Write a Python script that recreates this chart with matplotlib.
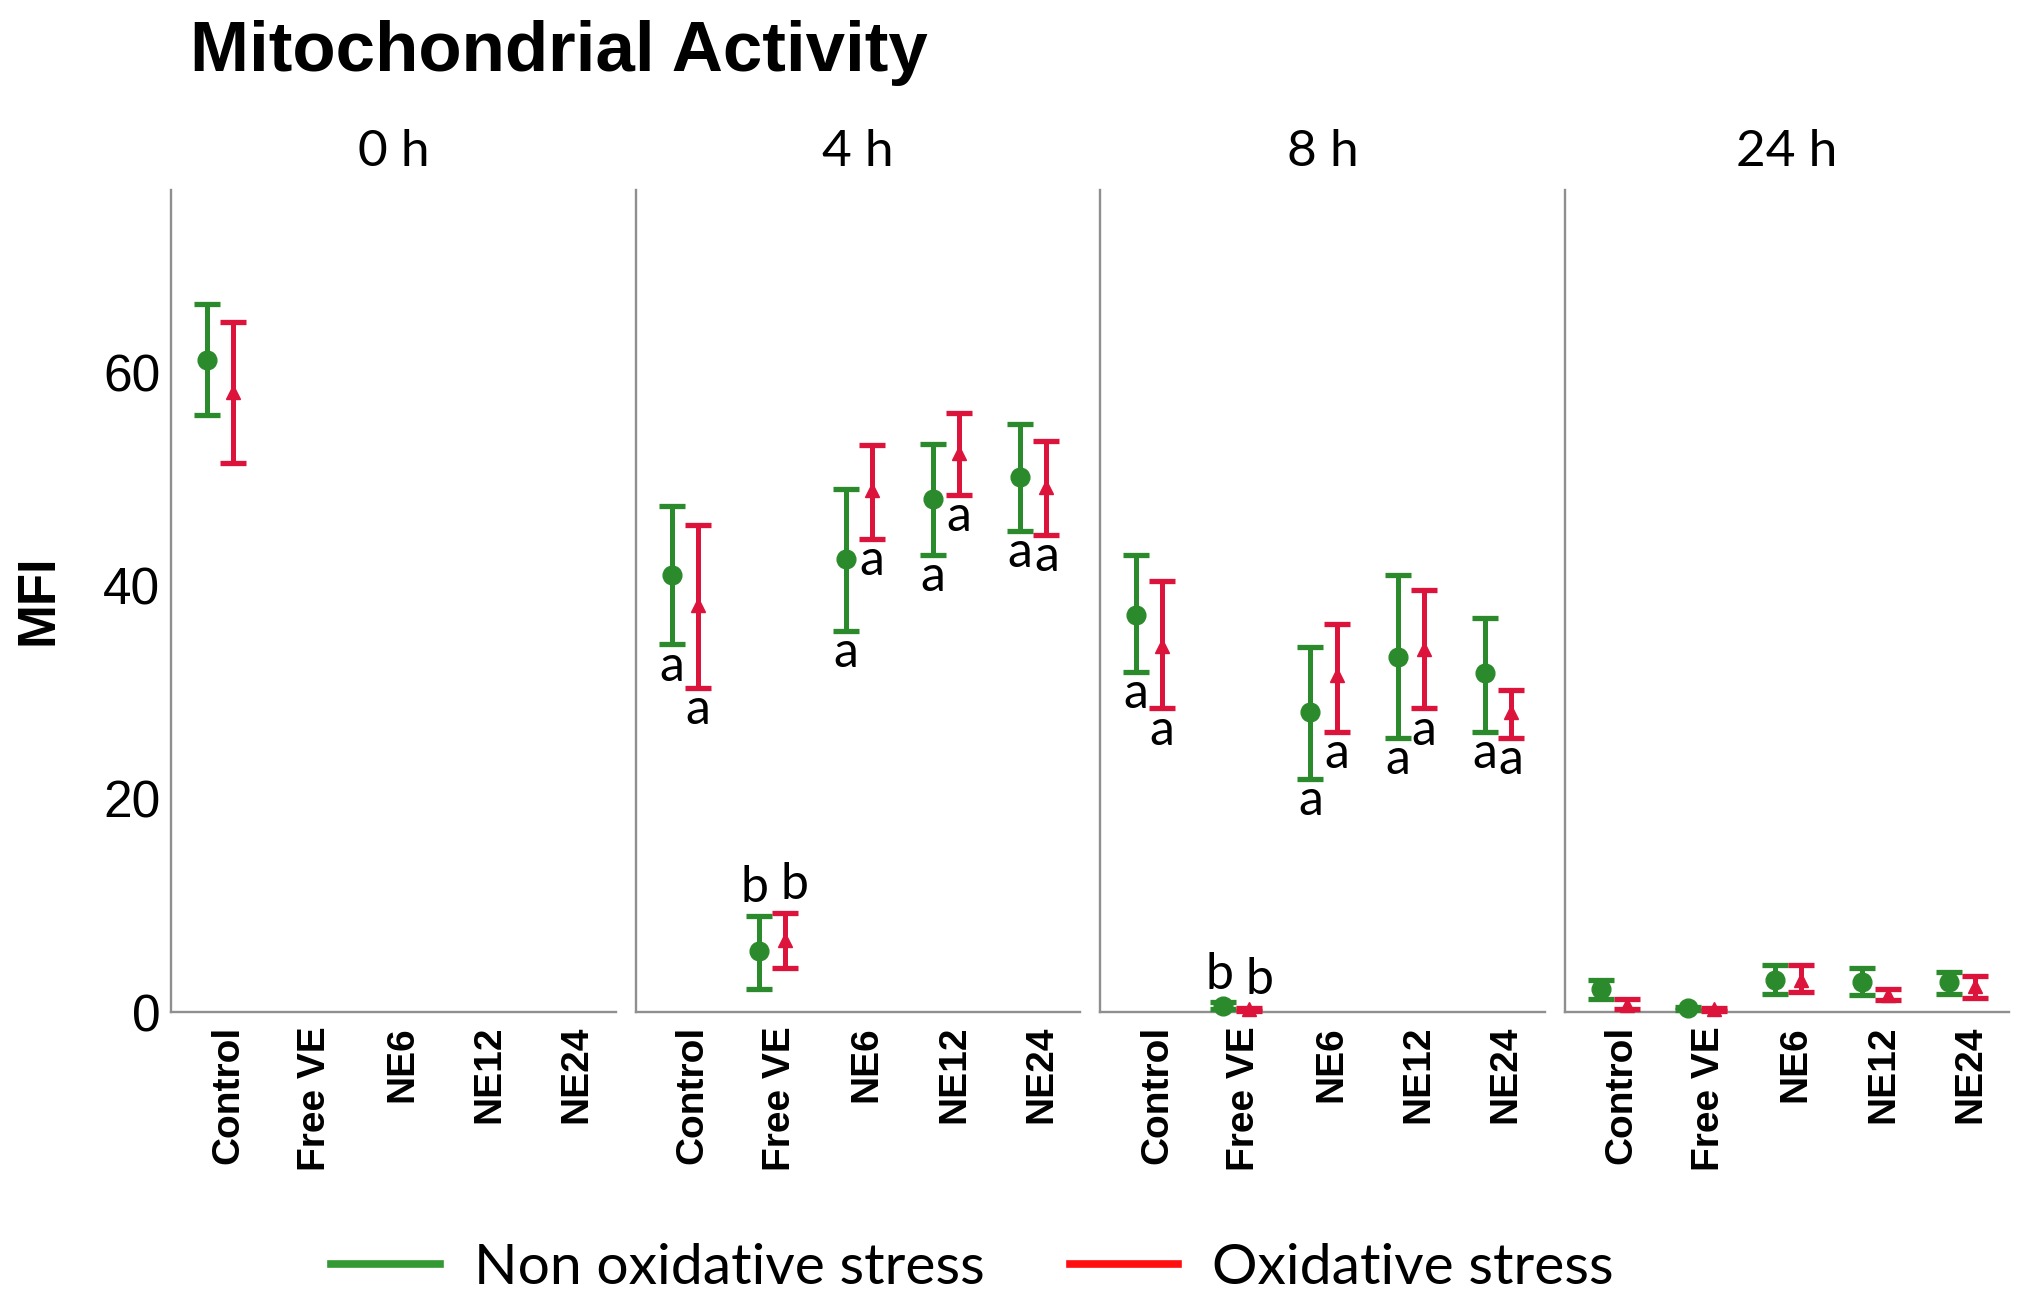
import numpy as np
import matplotlib
matplotlib.use("Agg")
import matplotlib.pyplot as plt
from matplotlib.lines import Line2D

nan = np.nan

# Data (MFI, mean with lower / upper error limits)
panels = ["0 h", "4 h", "8 h", "24 h"]
groups = ["Control", "Free VE", "NE6", "NE12", "NE24"]

green_mean = [[61.2, nan, nan, nan, nan],
              [41.0, 5.7, 42.5, 48.2, 50.2],
              [37.3, 0.6, 28.2, 33.3, 31.8],
              [2.2, 0.35, 3.0, 2.8, 2.8]]
green_lo = [[56.0, nan, nan, nan, nan],
            [34.5, 2.2, 35.8, 42.9, 45.2],
            [31.9, 0.3, 21.9, 25.7, 26.3],
            [1.2, 0.2, 1.7, 1.6, 1.7]]
green_hi = [[66.5, nan, nan, nan, nan],
            [47.5, 9.0, 49.1, 53.3, 55.2],
            [42.9, 0.9, 34.3, 41.0, 37.0],
            [3.0, 0.5, 4.4, 4.1, 3.8]]

red_mean = [[58.2, nan, nan, nan, nan],
            [38.2, 6.8, 49.0, 52.5, 49.3],
            [34.4, 0.25, 31.6, 34.1, 28.2],
            [0.7, 0.25, 3.0, 1.6, 2.4]]
red_lo = [[51.5, nan, nan, nan, nan],
          [30.4, 4.1, 44.4, 48.5, 44.8],
          [28.5, 0.1, 26.3, 28.5, 25.7],
          [0.25, 0.1, 1.9, 1.1, 1.3]]
red_hi = [[64.8, nan, nan, nan, nan],
          [45.7, 9.3, 53.2, 56.2, 53.6],
          [40.5, 0.4, 36.4, 39.6, 30.2],
          [1.2, 0.4, 4.4, 2.2, 3.4]]

# significance letters ('b' drawn above the upper cap, 'a' below the lower cap)
green_letters = [["", "", "", "", ""],
                 ["a", "b", "a", "a", "a"],
                 ["a", "b", "a", "a", "a"],
                 ["", "", "", "", ""]]
red_letters = [["", "", "", "", ""],
               ["a", "b", "a", "a", "a"],
               ["a", "b", "a", "a", "a"],
               ["", "", "", "", ""]]

series_names = ["Non oxidative stress", "Oxidative stress"]
yticks = [0, 20, 40, 60]

GREEN = "#2b8a2b"
RED = "#dc143c"
SPINE = "#8f8f8f"
LETTER_FONT = ["Lato", "DejaVu Sans"]


def draw_series(ax, x, mean, lo, hi, letters, color, marker, ms, bshift):
    mean = np.array(mean)
    lo = np.array(lo)
    hi = np.array(hi)
    eb = ax.errorbar(x, mean, yerr=[mean - lo, hi - mean], fmt=marker,
                     color=color, ms=ms, capsize=9.5, capthick=3.8,
                     elinewidth=3.6, zorder=4)
    for art in eb.lines[0:1] + tuple(eb.lines[1]) + tuple(eb.lines[2]):
        art.set_clip_on(False)
    for xi, l, h, lab in zip(x, lo, hi, letters):
        if not lab:
            continue
        if lab == "b":
            ax.annotate(lab, (xi, h), xytext=(bshift, 10), textcoords="offset points",
                        ha="center", va="baseline", fontsize=36,
                        family=LETTER_FONT)
        else:
            ax.annotate(lab, (xi, l), xytext=(0, -26), textcoords="offset points",
                        ha="center", va="baseline", fontsize=36,
                        family=LETTER_FONT)


fig = plt.figure(figsize=(20.22, 13.04), dpi=100)

left0, width, gap = 0.0848, 0.2198, 0.0099
bottom, height = 0.2239, 0.6307
xpos = np.arange(len(groups))

for i, panel in enumerate(panels):
    ax = fig.add_axes([left0 + i * (width + gap), bottom, width, height])
    draw_series(ax, xpos - 0.24, green_mean[i], green_lo[i], green_hi[i],
                green_letters[i], GREEN, "o", 13.5, -3)
    draw_series(ax, xpos + 0.06, red_mean[i], red_lo[i], red_hi[i],
                red_letters[i], RED, "^", 10, 7)

    ax.set_xlim(-0.65, 4.45)
    ax.set_ylim(0, 77.2)
    for side in ("top", "right"):
        ax.spines[side].set_visible(False)
    for side in ("left", "bottom"):
        ax.spines[side].set_color(SPINE)
        ax.spines[side].set_linewidth(1.7)
    ax.set_xticks(xpos)
    ax.set_xticklabels(groups, rotation=90, fontsize=28, fontweight="bold",
                       family="Liberation Sans")
    ax.tick_params(axis="x", length=0, pad=10)
    ax.set_yticks(yticks)
    if i == 0:
        ax.set_yticklabels([str(t) for t in yticks], fontsize=37,
                           family="Liberation Sans")
        ax.tick_params(axis="y", length=0, pad=8)
    else:
        ax.set_yticklabels([])
        ax.tick_params(axis="y", length=0)
    ax.set_title(panel, fontsize=37, pad=17, family=LETTER_FONT)

fig.text(190 / 2022, 1 - 71 / 1304, "Mitochondrial Activity", ha="left",
         va="baseline", fontsize=51, fontweight="bold", family="Liberation Sans")
fig.text(39 / 2022, 1 - 600 / 1304, "MFI", rotation=90, ha="center",
         va="center", fontsize=38, fontweight="bold", family="Liberation Sans")

handles = [Line2D([], [], color="#339933", lw=5.5),
           Line2D([], [], color="#ff1010", lw=5.5)]
leg = fig.legend(handles, series_names, loc="center", ncol=2,
                 bbox_to_anchor=(0.481, 1 - 1268 / 1304), frameon=False,
                 prop={"family": LETTER_FONT, "size": 41},
                 handlelength=1.9, handletextpad=0.6, columnspacing=1.5)

fig.savefig("out.png", dpi=100)
